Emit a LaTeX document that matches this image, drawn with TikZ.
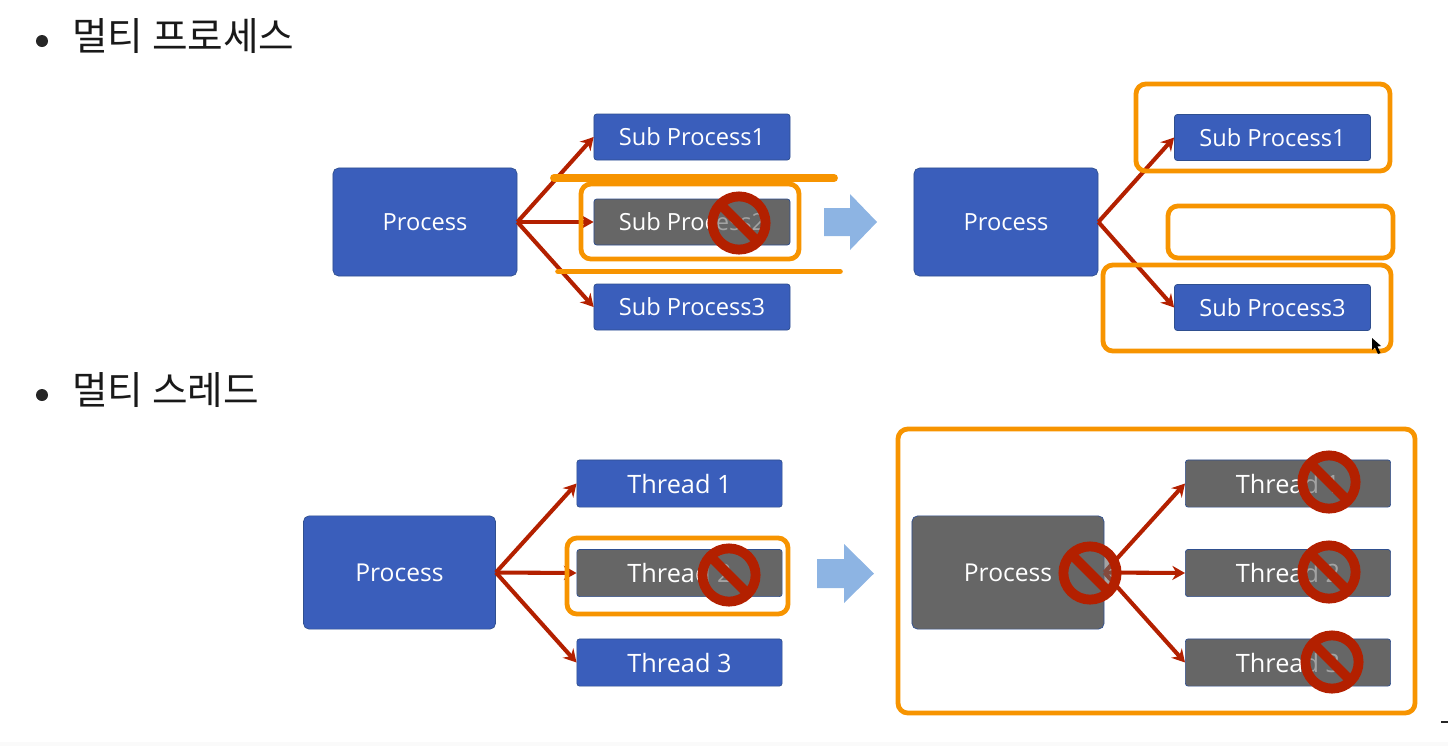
\documentclass[tikz,border=0pt]{standalone}
\usepackage{fontspec}
\setmainfont{Open Sans}
\newfontfamily\krfont{Noto Sans CJK KR}
\usetikzlibrary{arrows.meta}

\definecolor{boxblue}{HTML}{3A5EBB}
\definecolor{boxedge}{HTML}{2F4F8F}
\definecolor{boxgray}{HTML}{666666}
\definecolor{arrowred}{HTML}{B32000}
\definecolor{frameorange}{HTML}{F79400}
\definecolor{bigarrow}{HTML}{8DB4E3}

\tikzset{
    box/.style={draw=boxedge,line width=0.5pt,rounded corners=2pt,text=white,inner sep=0pt,
        font=\fontsize{16.8}{20}\selectfont},
    subbox/.style={box,fill=boxblue,minimum width=4.9cm,minimum height=1.15cm},
    threadbox/.style={box,fill=boxblue,minimum width=5.13cm,minimum height=1.18cm,
        font=\fontsize{18}{20}\selectfont},
    procbox/.style={box,fill=boxblue,rounded corners=4pt,minimum width=4.6cm,minimum height=2.7cm},
    bigprocbox/.style={procbox,minimum width=4.8cm,minimum height=2.83cm,
        font=\fontsize{17.5}{20}\selectfont},
    link/.style={draw=arrowred,line width=2.9pt,-{Stealth[length=9pt,width=10pt]}},
    frame/.style={draw=frameorange,line width=3.4pt,rounded corners=7pt},
    nosign/.style={circle,draw=arrowred,line width=7pt,minimum size=1.33cm,inner sep=0pt,
        fill=boxgray,fill opacity=0.6,
        path picture={\draw[arrowred,line width=7pt] (path picture bounding box.north west)--(path picture bounding box.south east);}},
    heading/.style={anchor=west,inner sep=0pt,font=\krfont\fontsize{27.5}{30}\selectfont,text=black!90},
    dotmark/.style={circle,fill=black!85,inner sep=0pt,minimum size=0.3cm},
}

\begin{document}
\begin{tikzpicture}[x=0.025cm,y=-0.025cm]
        \useasboundingbox (0,0) rectangle (1448,746);
        \fill[black!2] (0,742) rectangle (1448,746);
        \fill[black!85] (1441,721) rectangle (1448,723);

        % headings
        \node[dotmark] (dot1) at (42,41) {};
        \node[heading] (title1) at (72,36) {멀티 프로세스};
        \node[dotmark] (dot2) at (42,395) {};
        \node[heading] (title2) at (72,390) {멀티 스레드};

        % multi process, before
        \node[procbox] (proc) at (425,222) {Process};
        \node[subbox] (sub1) at (692,137) {Sub Process1};
        \node[subbox,fill=boxgray] (sub2) at (692,222) {Sub Process2};
        \node[subbox] (sub3) at (692,307) {Sub Process3};
        \draw[link] (proc.east)--(sub1.west);
        \draw[link] (proc.east)--(sub2.west);
        \draw[link] (proc.east)--(sub3.west);
        \draw[frameorange,line width=5.6pt,line cap=round] (554,178)--(834,178);
        \draw[frameorange,line width=4pt,line cap=round] (558,271.5)--(840,271.5);
        \draw[frame] (581,184) rectangle (799,259);
        \node[nosign] (stop1) at (739,223) {};
        \fill[bigarrow] (824,208)--(850,208)--(850,194)--(877,222)--(850,250)--(850,236)--(824,236)--cycle;

        % multi process, after
        \node[procbox] (procb) at (1006,222) {Process};
        \node[subbox] (subb1) at (1272.5,137.5) {Sub Process1};
        \node[subbox] (subb3) at (1272.5,307.5) {Sub Process3};
        \draw[link] (procb.east)--(subb1.west);
        \draw[link] (procb.east)--(subb3.west);
        \draw[frame] (1136,84) rectangle (1390,171);
        \draw[frame] (1168,206) rectangle (1393,258);
        \draw[frame] (1103,265) rectangle (1391,351);
        \fill[black] (1372,338)--(1372,350)--(1375,347.5)--(1378,354)--(1380.5,353)--(1377.5,346.5)--(1381,346)--cycle;

        % multi thread, before
        \node[bigprocbox] (proct) at (399.5,572.5) {Process};
        \node[threadbox] (thr1) at (679.5,483.5) {Thread 1};
        \node[threadbox,fill=boxgray] (thr2) at (679.5,573) {Thread 2};
        \node[threadbox] (thr3) at (679.5,662.5) {Thread 3};
        \draw[link] (proct.east)--(thr1.west);
        \draw[link] (proct.east)--(thr2.west);
        \draw[link] (proct.east)--(thr3.west);
        \draw[frame] (567,538) rectangle (788,614);
        \node[nosign] (stop2) at (729,575) {};
        \fill[bigarrow] (817,559)--(844,559)--(844,544)--(874,573.5)--(844,603)--(844,588)--(817,588)--cycle;

        % multi thread, after
        \node[bigprocbox,fill=boxgray] (proctb) at (1008,572.5) {Process};
        \node[threadbox,fill=boxgray] (thrb1) at (1288,483.5) {Thread 1};
        \node[threadbox,fill=boxgray] (thrb2) at (1288,573) {Thread 2};
        \node[threadbox,fill=boxgray] (thrb3) at (1288,662.5) {Thread 3};
        \draw[link] (proctb.east)--(thrb1.west);
        \draw[link] (proctb.east)--(thrb2.west);
        \draw[link] (proctb.east)--(thrb3.west);
        \draw[frame] (898,429) rectangle (1415,713);
        \node[nosign] (stop3) at (1090,573) {};
        \node[nosign] (stop4) at (1329,482) {};
        \node[nosign] (stop5) at (1329,572) {};
        \node[nosign] (stop6) at (1332,662) {};
\end{tikzpicture}
\end{document}
